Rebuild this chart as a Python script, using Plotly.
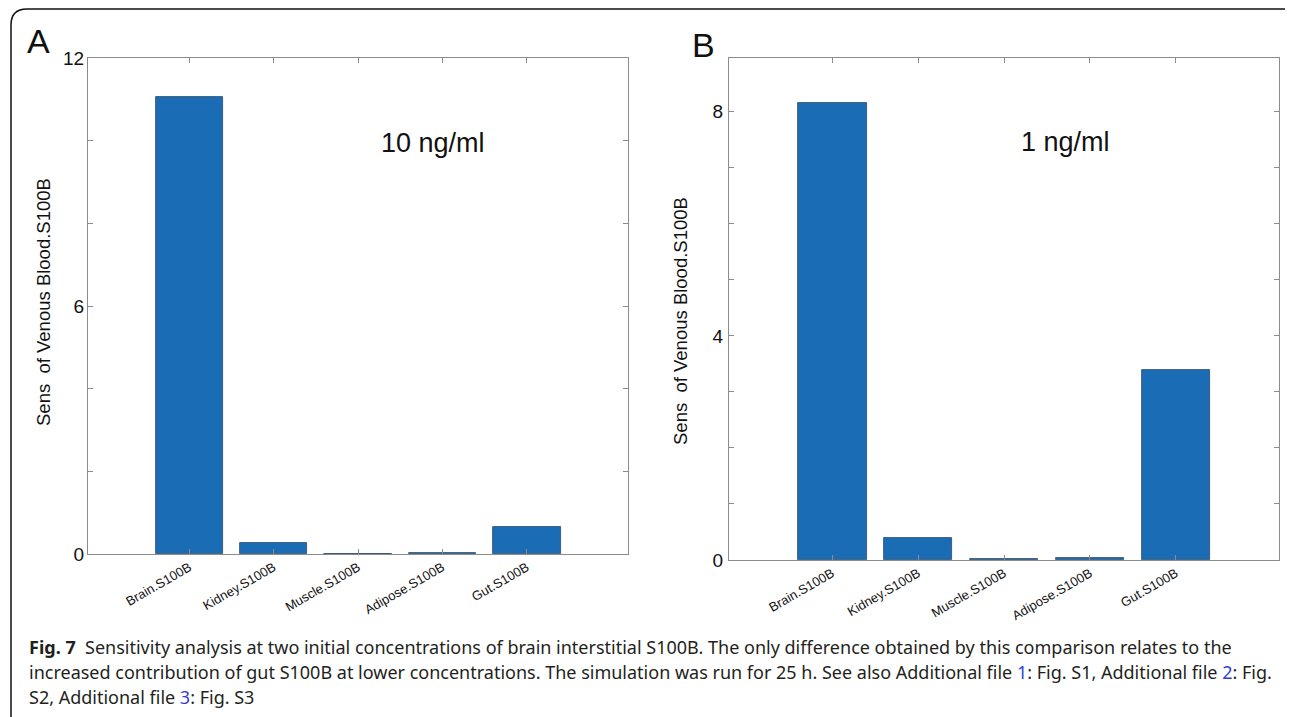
import plotly.graph_objects as go

# page body has an 8px margin; size the figure so it fills the rest of the 1293x717 window
OFF = 8
W, H = 1293 - OFF, 717 - OFF

categories = ["Brain.S100B", "Kidney.S100B", "Muscle.S100B", "Adipose.S100B", "Gut.S100B"]
values_10ng = [11.06, 0.26, 0.005, 0.02, 0.66]
values_1ng = [8.15, 0.39, 0.01, 0.03, 3.39]

yticks_a = [0, 2, 4, 6, 8, 10, 12]
yticklabels_a = ["0", "", "", "6", "", "", "12"]
yticks_b = [0, 1, 2, 3, 4, 5, 6, 7, 8, 9]
yticklabels_b = ["0", "", "", "", "4", "", "", "", "8", ""]

ytitle = "Sens\u00a0\u00a0of Venous Blood.S100B"
BAR = "#1a6db5"
AX = "#8c8c8c"
FONT = "Liberation Sans, Arial, sans-serif"


def px(x):
    return (x - OFF) / W


def py(y):
    return 1 - (y - OFF) / H


fig = go.Figure()
fig.add_trace(go.Bar(x=categories, y=values_10ng, width=0.8, marker=dict(color=BAR, line=dict(color="#2b4a68", width=0.8)),
                     xaxis="x", yaxis="y", showlegend=False))
fig.add_trace(go.Bar(x=categories, y=values_1ng, width=0.8, marker=dict(color=BAR, line=dict(color="#2b4a68", width=0.8)),
                     xaxis="x2", yaxis="y2", showlegend=False))

common_x = dict(type="category", range=[-1.2, 5.2], showline=True, linecolor=AX, linewidth=1, mirror="allticks",
                ticks="inside", ticklen=5, tickcolor=AX, tickangle=-30, tickfont=dict(family=FONT, size=13, color="#111"),
                showgrid=False, zeroline=False, fixedrange=True, automargin=False)
common_y = dict(showline=True, linecolor=AX, linewidth=1, mirror="allticks", ticks="inside", ticklen=5, tickcolor=AX,
                tickfont=dict(family=FONT, size=19, color="#111"), showgrid=False, zeroline=False, tickmode="array",
                automargin=False)

fig.update_layout(
    template="none",
    width=W, height=H, margin=dict(l=0, r=0, t=0, b=0, autoexpand=False), paper_bgcolor="white", plot_bgcolor="white",
    bargap=0,
    xaxis=dict(domain=[px(88), px(628)], anchor="y", **common_x),
    yaxis=dict(domain=[py(554), py(58)], anchor="x", range=[0, 12], tickvals=yticks_a, ticktext=yticklabels_a,
               ticklabelstandoff=-1, **common_y),
    xaxis2=dict(domain=[px(729), px(1279)], anchor="y2", **common_x),
    yaxis2=dict(domain=[py(560), py(58)], anchor="x2", range=[0, 8.96], tickvals=yticks_b, ticktext=yticklabels_b,
                ticklabelstandoff=1, **common_y),
)


def note(text, x, y, size, angle=0, xanchor="center", family=FONT, color="#111"):
    return dict(text=text, x=px(x), y=py(y), xref="paper", yref="paper", showarrow=False, textangle=angle,
                xanchor=xanchor, yanchor="middle", font=dict(family=family, size=size, color=color))


ann = [
    note(ytitle, 43, 302, 18.5, angle=-90),
    note(ytitle, 680, 321, 18.5, angle=-90),
    note("10 ng/ml", 433, 143, 27),
    note("1 ng/ml", 1065, 142, 27),
    note("A", 38, 41, 34),
    note("B", 703, 45, 34),
]

CAP = "Noto Sans, sans-serif"
LINK = "#2f3fd8"
lines = [
    "<b>Fig. 7</b>\u00a0\u00a0Sensitivity analysis at two initial concentrations of brain interstitial S100B. The only difference obtained by this comparison relates to the",
    "increased contribution of gut S100B at lower concentrations. The simulation was run for 25 h. See also Additional file "
    f"<span style='color:{LINK}'>1</span>: Fig. S1, Additional file <span style='color:{LINK}'>2</span>: Fig.",
    f"S2, Additional file <span style='color:{LINK}'>3</span>: Fig. S3",
]
for i, t in enumerate(lines):
    ann.append(note(t, 27, 647 + 25 * i, 18, xanchor="left", family=CAP, color="#231f20"))
fig.update_layout(annotations=ann)

# panel frame (rounded corners)
x0, y0, x1, r = 11, 9, 1300, 16
path = (f"M {px(x0)} {py(H + OFF + 5)} L {px(x0)} {py(y0 + r)} Q {px(x0)} {py(y0)} {px(x0 + r)} {py(y0)} "
        f"L {px(x1 - r)} {py(y0)} Q {px(x1)} {py(y0)} {px(x1)} {py(y0 + r)} L {px(x1)} {py(H + OFF + 5)}")
fig.add_shape(type="path", path=path, xref="paper", yref="paper", line=dict(color="#111", width=1.5))

fig.write_html("out.html")
